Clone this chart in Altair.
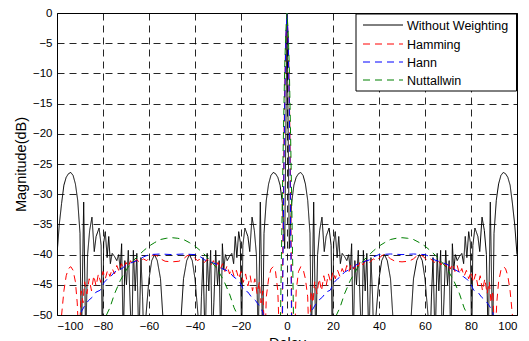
import altair as alt
import pandas as pd

series_names = ["Without Weighting", "Hamming", "Hann", "Nuttallwin"]
series_colors = ["#000000", "#ff0000", "#0000ff", "#008000"]
series_dashes = [[1, 0], [7, 5], [7, 5], [7, 5]]

x_ticks = [-100, -80, -60, -40, -20, 0, 20, 40, 60, 80, 100]
y_ticks = [0, -5, -10, -15, -20, -25, -30, -35, -40, -45, -50]

# Positive-delay half of each curve (the picture is symmetric about 0)
black_x = [0, 1, 2, 3, 4, 5, 6, 7, 8, 9, 10, 10.6, 11.6, 12.5, 13.3, 14.2, 15.2, 16.2, 17, 18.3,
           19.2, 19.7, 20.3, 21, 21.8, 22.5, 23.2, 24, 25, 26, 26.8, 27.5, 28.1, 28.8, 29.5, 30.2,
           31, 31.8, 32.5, 33.2, 34, 34.7, 35.6, 36.5, 37.2, 37.8, 38.7, 40, 41.2, 42.4, 43.6, 45,
           46.8, 53.2, 55, 56.4, 57.6, 58.8, 60, 61.3, 62.2, 62.8, 63.5, 64.4, 65.3, 66, 66.8, 67.5,
           68.2, 69, 69.8, 70.5, 71.2, 71.9, 72.5, 73.2, 74, 75, 76, 76.8, 77.5, 78.2, 79, 79.7,
           80.3, 80.8, 81.7, 83, 83.8, 84.8, 85.8, 86.7, 87.5, 88.4, 89.4, 90, 91, 92, 93, 94, 95,
           96, 97, 98, 99, 100]
black_y = [0, -39, -31.5, -28.5, -27.2, -26.6, -26.4, -26.9, -28.3, -31, -36.5, -55, -31.3, -55,
           -40, -36, -33.8, -39.5, -37, -35.6, -38.5, -55, -38, -36.2, -40.5, -37, -41.5, -39.8,
           -40.3, -41, -40, -42.5, -38.2, -55, -41, -45, -39.3, -48, -55, -39.3, -46, -39.8, -55,
           -40.5, -47, -55, -50, -44, -41, -40, -41, -44, -55, -55, -44, -41, -40, -41, -44, -50,
           -55, -47, -40.5, -55, -39.8, -46, -39.3, -55, -48, -39.3, -45, -41, -55, -38.2, -42.5,
           -40, -41, -40.3, -39.8, -41.5, -37, -40.5, -36.2, -38, -55, -38.5, -35.6, -37, -39.5,
           -33.8, -36, -40, -55, -31.3, -55, -36.5, -31, -28.3, -26.9, -26.4, -26.6, -27.2, -28.5,
           -31.5, -35, -40]

hamming_x = [0, 0.6, 1.2, 1.8, 2.2, 3.2, 4, 5, 6, 7, 8, 9, 9.6, 10.5, 11.3, 12, 13, 14, 15, 16,
             17, 18, 19, 20, 21, 22, 23, 24, 25, 26, 27, 28, 29, 30, 31, 32, 33, 34.5, 36, 37.5,
             39, 40.5, 42, 43.5, 45, 47, 50, 53, 55, 56.5, 58, 59.5, 61, 62.5, 64, 65.5, 67, 68,
             69, 70, 71, 72, 73, 74, 75, 76, 77, 78, 79, 80, 81, 82, 83, 84, 85, 86, 87, 88, 88.7,
             89.5, 90.4, 91.2, 92, 93, 94, 95, 96, 97, 98, 98.8, 100]
hamming_y = [0, -5, -18, -38, -55, -55, -46, -42.8, -42, -42.4, -44, -47, -55, -46, -48, -44.5,
             -46.5, -44, -46, -43.5, -45.2, -43.2, -44.6, -42.8, -44, -42.6, -43.6, -42.3, -43.2,
             -41.8, -42.8, -41.5, -42.4, -41.3, -42, -41, -41.7, -40.8, -41.3, -40.7, -41, -40.4,
             -40, -40.2, -40.7, -41.1, -41.2, -41.1, -40.7, -40.2, -40, -40.4, -41, -40.7, -41.3,
             -40.8, -41.7, -41, -42, -41.3, -42.4, -41.5, -42.8, -41.8, -43.2, -42.3, -43.6,
             -42.6, -44, -42.8, -44.6, -43.2, -45.2, -43.5, -46, -44, -46.5, -44.5, -48, -46,
             -55, -48, -44.5, -42.6, -42, -42.3, -43.5, -46, -50, -55, -60]

hann_x = [0, 0.5, 1, 1.5, 2, 2.3, 9, 9.6, 10.5, 12, 13.7, 15.5, 17, 18.8, 20.5, 22, 23.2, 25,
          26.5, 28.3, 30, 32, 34, 35.7, 37.5, 40, 45, 50, 55, 60, 62.5, 64.3, 66, 68, 70, 71.7,
          73.5, 75, 76.8, 78, 79.5, 81.2, 83, 84.5, 86.3, 88, 89.5, 90.4, 91, 100]
hann_y = [0, -4, -15, -32, -52, -60, -60, -52, -49.5, -48.5, -47.6, -47, -46.2, -45.9, -44.6,
          -44, -43.7, -42.9, -42.6, -42.3, -41.7, -41.4, -41.1, -40.9, -40.4, -40, -39.9, -40,
          -39.9, -40, -40.4, -40.9, -41.1, -41.4, -41.7, -42.3, -42.6, -42.9, -43.7, -44, -44.6,
          -45.9, -46.2, -47, -47.6, -48.5, -49.5, -52, -60, -60]

nuttall_x = [0, 0.5, 1, 1.5, 2, 2.5, 3, 3.3, 20.8, 21.5, 23, 25, 27.5, 30.5, 33, 35, 37.5, 40,
             42.5, 45, 47.5, 50, 52.5, 55, 57.5, 60, 62.5, 65, 67, 69.5, 72.5, 75, 77, 78.5,
             79.2, 100]
nuttall_y = [0, -3, -9, -19, -30, -42, -55, -60, -60, -50, -48.8, -46.5, -44.3, -42.3, -41.1,
             -40.3, -39.4, -38.6, -38, -37.5, -37.3, -37.2, -37.3, -37.5, -38, -38.6, -39.4,
             -40.3, -41.1, -42.3, -44.3, -46.5, -48.8, -50, -60, -60]


def mirror(xs, ys):
    fx = [-v for v in reversed(xs[1:])] + list(xs)
    fy = list(reversed(ys[1:])) + list(ys)
    return fx, fy


rows = []
for k, (name, xs, ys) in enumerate(zip(series_names,
                                       [black_x, hamming_x, hann_x, nuttall_x],
                                       [black_y, hamming_y, hann_y, nuttall_y])):
    fx, fy = mirror(xs, ys)
    for a, b in zip(fx, fy):
        rows.append({"Delay": a, "Magnitude": b, "Series": name, "k": k})
df = pd.DataFrame(rows)

font = "Liberation Sans"

lines = alt.Chart(df).mark_line(clip=True, strokeWidth=1).encode(
    x=alt.X("Delay:Q",
            scale=alt.Scale(domain=[-100, 100], nice=False, zero=False),
            axis=alt.Axis(values=x_ticks, title="Delay", titleX=230, titleY=21,
                          titleBaseline="top", titleAlign="center", labelPadding=5)),
    y=alt.Y("Magnitude:Q",
            scale=alt.Scale(domain=[-50, 0], nice=False, zero=False),
            axis=alt.Axis(values=y_ticks, title="Magnitude(dB)", titleX=-29, titleY=151,
                          titleAngle=270, titleAlign="center", titleBaseline="bottom",
                          labelPadding=5)),
    color=alt.Color("Series:N", scale=alt.Scale(domain=series_names, range=series_colors),
                    legend=None),
    strokeDash=alt.StrokeDash("Series:N", scale=alt.Scale(domain=series_names, range=series_dashes),
                              legend=None),
    order=alt.Order("k:Q"),
)

# Legend drawn inside the plot's top-right corner
legend_df = pd.DataFrame({"Series": series_names})
box = alt.Chart(legend_df.head(1)).mark_rect(fill="white", stroke="black", strokeWidth=1).encode(
    x=alt.value(299), x2=alt.value(459.5), y=alt.value(1), y2=alt.value(78)
)
row_y = [12, 31, 49, 67]
legend_layers = [box]
for name, col, dash, ry in zip(series_names, series_colors, series_dashes, row_y):
    d = pd.DataFrame({"Series": [name]})
    legend_layers.append(
        alt.Chart(d).mark_rule(stroke=col, strokeDash=dash, strokeWidth=1).encode(
            x=alt.value(306), x2=alt.value(346), y=alt.value(ry))
    )
    legend_layers.append(
        alt.Chart(d).mark_text(align="left", baseline="middle", font=font, fontSize=12.5,
                               color="black").encode(
            x=alt.value(350), y=alt.value(ry + 0.5), text="Series:N")
    )

chart = alt.layer(lines, *legend_layers).properties(
    width=460, height=302,
    autosize=alt.AutoSizeParams(type="none"),
    padding={"left": 57, "top": 13, "right": 12, "bottom": 26},
).configure_view(
    stroke="black", strokeWidth=1
).configure_axis(
    grid=True, gridColor="black", gridDash=[7, 5], gridWidth=1, gridOpacity=0.85,
    domain=False, ticks=False,
    labelFont=font, labelFontSize=11.5, labelColor="black",
    titleFont=font, titleFontSize=14.5, titleFontWeight="normal", titleColor="black",
)

chart.save("out.html", embed_options={"renderer": "svg", "actions": False})
